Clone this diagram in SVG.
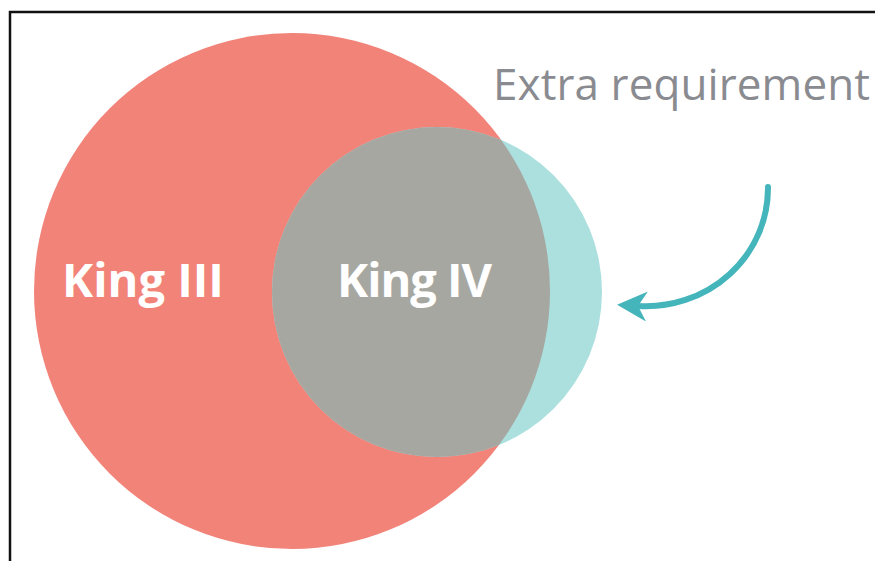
<svg xmlns="http://www.w3.org/2000/svg" width="875" height="561" viewBox="0 0 875 561">
  <style>
    .label { font-family: "Open Sans", "Noto Sans", "Liberation Sans", sans-serif; }
    .set-label { font-size: 47px; font-weight: 700; fill: #ffffff; }
    .note { font-size: 44px; font-weight: 400; fill: #8a8b90; }
    .frame { stroke: #111111; stroke-width: 2.5; fill: none; }
    .pointer { fill: none; stroke: #45b5bc; stroke-width: 6; stroke-linecap: round; }
  </style>
  <defs>
    <clipPath id="clip-king3">
      <circle cx="292" cy="291" r="258"/>
    </clipPath>
    <marker id="arrowhead" viewBox="0 0 10 10" refX="3" refY="5" markerWidth="5" markerHeight="5" orient="auto" markerUnits="strokeWidth">
      <path d="M0,0 L10,5 L0,10 L3,5 Z" fill="#45b5bc"/>
    </marker>
  </defs>
  <rect width="875" height="561" fill="#ffffff"/>

  <!-- outer frame: top and left edges only -->
  <path class="frame" d="M10,561 V12 H875"/>

  <g id="king-iii">
    <circle cx="292" cy="291" r="258" fill="#f28379"/>
    <text class="label set-label" x="62" y="297">King III</text>
  </g>

  <g id="extra-requirement-set">
    <circle cx="437" cy="292" r="165" fill="#abe0df"/>
  </g>

  <g id="king-iv">
    <!-- overlap of both sets -->
    <circle cx="437" cy="292" r="165" fill="#a7a7a2" clip-path="url(#clip-king3)"/>
    <text class="label set-label" x="337" y="297" textLength="155">King IV</text>
  </g>

  <g id="extra-requirement">
    <text class="label note" x="493" y="100" textLength="377">Extra requirement</text>
  </g>

  <g id="connectors">
    <path class="pointer" d="M768,187 A122,118 0 0 1 638,306" marker-end="url(#arrowhead)"/>
  </g>
</svg>
